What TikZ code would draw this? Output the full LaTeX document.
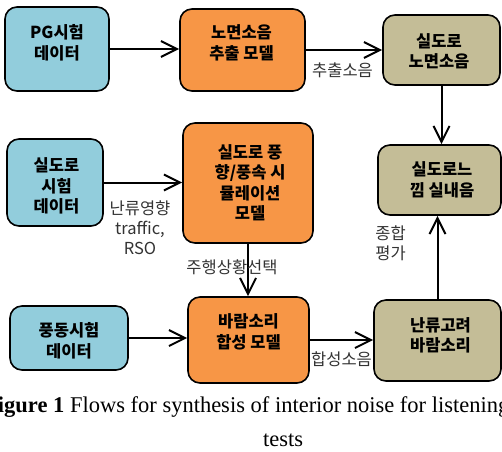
\documentclass[tikz,border=0pt]{standalone}
\usepackage{fontspec}
\setmainfont{Liberation Serif}
\newfontfamily\kr{Noto Sans CJK KR}
\usetikzlibrary{arrows.meta}
\definecolor{dataBlue}{HTML}{92CDDC}
\definecolor{modelOrange}{HTML}{F79646}
\definecolor{resultTan}{HTML}{C4BD97}
\definecolor{labelGray}{HTML}{333333}
\tikzset{
  box/.style={draw=black, line width=1.6pt, rounded corners=12pt, inner sep=0pt},
  databox/.style={box, fill=dataBlue},
  modelbox/.style={box, fill=modelOrange},
  resultbox/.style={box, fill=resultTan},
  boxtext/.style={align=center, inner sep=0pt, font=\kr\bfseries\fontsize{16.5}{20.5}\selectfont},
  edgelabel/.style={align=center, inner sep=0pt, text=labelGray, font=\kr\fontsize{16.5}{20}\selectfont},
  arr/.style={line width=2pt, -{Straight Barb[length=16pt,width=16pt,line width=2pt]}},
}
\begin{document}
\begin{tikzpicture}[x=1pt, y=-1pt]
\useasboundingbox (0,0) rectangle (502,451);
\clip (0,0) rectangle (502,451);

% boxes
\node[databox, minimum width=104pt, minimum height=84pt] (pg) at (57,49) {};
\node[modelbox, minimum width=125pt, minimum height=82pt] (ext) at (242.5,50) {};
\node[resultbox, minimum width=117pt, minimum height=70pt] (road) at (441.5,50) {};
\node[databox, minimum width=96pt, minimum height=87pt] (test) at (55,182.5) {};
\node[modelbox, minimum width=130pt, minimum height=120pt] (sim) at (248,183) {};
\node[resultbox, minimum width=123pt, minimum height=70pt] (inner) at (439.5,180) {};
\node[databox, minimum width=118pt, minimum height=64pt] (tunnel) at (69,338) {};
\node[modelbox, minimum width=121pt, minimum height=86pt] (synth) at (248.5,340) {};
\node[resultbox, minimum width=127pt, minimum height=81pt] (turb) at (437.5,340.5) {};

% box texts
\node[boxtext] (pgT) at (57,43) {PG시험\\데이터};
\node[boxtext] (extT) at (241.5,43) {노면소음\\추출 모델};
\node[boxtext] (roadT) at (439,51) {실도로\\노면소음};
\node[boxtext] (testT) at (56.5,186) {실도로\\시험\\데이터};
\node[boxtext] (simT) at (250,182.5) {실도로 풍\\향/풍속 시\\뮬레이션\\모델};
\node[boxtext] (innerT) at (442,180) {실도로느\\낌 실내음};
\node[boxtext] (tunnelT) at (69,341) {풍동시험\\데이터};
\node[boxtext] (synthT) at (248.5,332) {바람소리\\합성 모델};
\node[boxtext] (turbT) at (440.5,335.5) {난류고려\\바람소리};

% connectors
\draw[arr] (pg.east) -- (pg.east -| ext.west);
\draw[arr] (ext.east) -- (ext.east -| road.west);
\draw[arr] (road.south) -- (road.south |- inner.north);
\draw[arr] (test.east) -- (test.east -| sim.west);
\draw[arr] (sim.south) -- (sim.south |- synth.north);
\draw[arr] (tunnel.east) -- (tunnel.east -| synth.west);
\draw[arr] (synth.east) -- (synth.east -| turb.west);
\draw[arr] (turb.north) -- (turb.north |- inner.south);

% connector labels
\node[edgelabel] (lblExt) at (342.5,70) {추출소음};
\node[edgelabel] (lblTest) at (140,228) {난류영향\\traffic,\\RSO};
\node[edgelabel] (lblSel) at (232,267) {주행상황선택};
\node[edgelabel] (lblEval) at (390.5,243) {종합\\평가};
\node[edgelabel] (lblSyn) at (341.5,359) {합성소음};

% caption
\node[anchor=base west, inner sep=0pt, font=\fontsize{22.5}{27}\selectfont] (cap1) at (-16,412)
  {\textbf{Figure 1} Flows for synthesis of interior noise for listening};
\node[anchor=base, inner sep=0pt, font=\fontsize{22.5}{27}\selectfont] (cap2) at (283,446) {tests};
\end{tikzpicture}
\end{document}
